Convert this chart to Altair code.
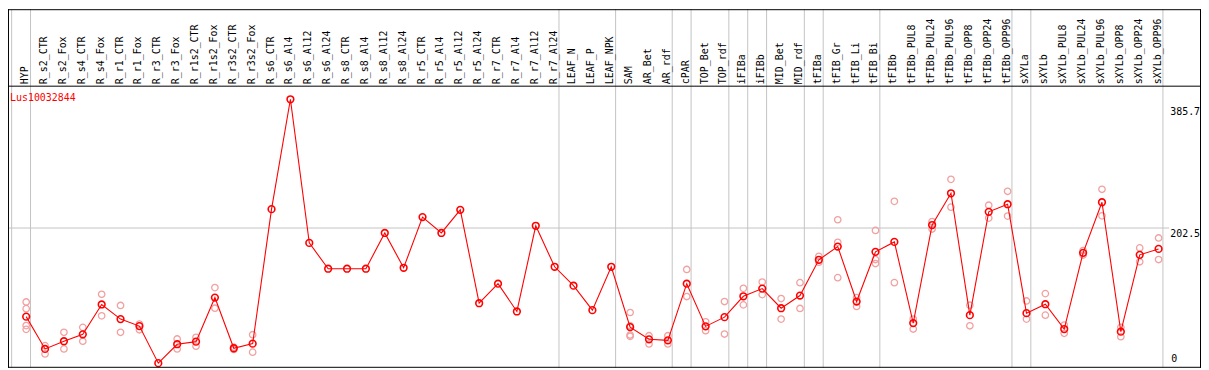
import altair as alt
import pandas as pd

gene = "Lus10032844"

categories = [
    "HYP", "R_s2_CTR", "R_s2_Fox", "R_s4_CTR", "R_s4_Fox", "R_r1_CTR", "R_r1_Fox",
    "R_r3_CTR", "R_r3_Fox", "R_r1s2_CTR", "R_r1s2_Fox", "R_r3s2_CTR", "R_r3s2_Fox",
    "R_s6_CTR", "R_s6_Al4", "R_s6_Al12", "R_s6_Al24", "R_s8_CTR", "R_s8_Al4",
    "R_s8_Al12", "R_s8_Al24", "R_r5_CTR", "R_r5_Al4", "R_r5_Al12", "R_r5_Al24",
    "R_r7_CTR", "R_r7_Al4", "R_r7_Al12", "R_r7_Al24", "LEAF_N", "LEAF_P", "LEAF_NPK",
    "SAM", "AR_Bet", "AR_rdf", "cPAR", "TOP_Bet", "TOP_rdf", "iFIBa", "iFIBb",
    "MID_Bet", "MID_rdf", "tFIBa", "tFIB_Gr", "tFIB_Li", "tFIB_Bi", "tFIBb",
    "tFIBb_PUL8", "tFIBb_PUL24", "tFIBb_PUL96", "tFIBb_OPP8", "tFIBb_OPP24",
    "tFIBb_OPP96", "sXYLa", "sXYLb", "sXYLb_PUL8", "sXYLb_PUL24", "sXYLb_PUL96",
    "sXYLb_OPP8", "sXYLb_OPP24", "sXYLb_OPP96",
]

means = [
    69.7, 21.3, 32.8, 43.2, 87.9, 66.0, 55.5, 0.0, 28.3, 32.2, 98.3, 22.3, 29.2,
    230.8, 395.5, 180.2, 141.5, 141.5, 141.5, 195.1, 142.9, 218.9, 195.1, 229.8,
    89.8, 119.1, 77.4, 205.9, 144.4, 116.1, 79.4, 144.4,
    54.0, 35.7, 34.2, 119.1, 55.1, 68.9, 100.2, 111.7, 82.3, 101.3, 154.9, 174.7,
    92.3, 166.8, 181.7, 60.0, 207.0, 254.6, 71.9, 226.8, 238.2, 74.9, 88.3, 51.1,
    165.3, 241.2, 47.1, 162.3, 171.2,
]

replicates = [
    [91.7, 81.6, 56.3, 50.6], [26.2, 13.8], [46.2, 21.3], [53.6, 32.8], [103.2, 70.9],
    [86.4, 46.2], [58.5, 50.0], [], [36.2, 21.3], [38.7, 25.3], [113.2, 82.3],
    [24.0, 20.5], [42.6, 16.4],
    [], [], [], [], [], [], [], [], [], [], [], [], [], [], [], [], [], [], [],
    [75.9, 56.0, 42.1, 40.2], [41.1, 28.7], [41.1, 28.7], [140.4, 99.8], [62.0, 48.6],
    [92.3, 43.6], [112.1, 87.3], [121.5, 102.7], [96.8, 66.0], [120.6, 81.9],
    [160.2, 151.3], [214.9, 181.1, 128.1], [98.3, 84.9], [198.9, 155.3, 149.3],
    [242.5, 120.6], [66.0, 51.1], [212.3, 201.0], [275.5, 233.8], [86.8, 56.0],
    [236.7, 217.4], [257.6, 220.4], [93.2, 66.0], [104.2, 71.9], [57.0, 44.7],
    [168.7, 162.0], [260.6, 220.8], [53.6, 39.6], [172.7, 151.9], [187.6, 155.3],
]

group_sizes = [1, 28, 3, 3, 1, 2, 1, 1, 2, 1, 3, 7, 1, 7]

top_ticks = ["385.7", "202.5"]
top_tick_values = [385.7, 202.5]
bottom_ticks = ["0"]
bottom_tick_values = [0]
grid_values = [202.5]

W, H = 1201, 361
FONT = "DejaVu Sans Mono"
RED = "#ff0000"
PINK = "#f2a0a0"
GRAY = "#c4c4c4"

xscale = alt.Scale(domain=[-0.9632, 62.247], nice=False, zero=False)
yscale = alt.Scale(domain=[-7.0, 530.5], nice=False, zero=False)

df_mean = pd.DataFrame({"i": list(range(len(categories))), "cat": categories, "val": means})
rep_rows = []
for i, (c, reps) in enumerate(zip(categories, replicates)):
    for v in reps:
        rep_rows.append({"i": i, "cat": c, "val": v})
df_rep = pd.DataFrame(rep_rows)

ends = [-1]
s = -1
for g in group_sizes:
    s += g
    ends.append(s)
df_sep = pd.DataFrame({"s": [e + 0.23 for e in ends]})

X = alt.X("i:Q", scale=xscale, axis=None)
Y = alt.Y("val:Q", scale=yscale, axis=None)

seps = alt.Chart(df_sep).mark_rule(color=GRAY, strokeWidth=1).encode(
    x=alt.X("s:Q", scale=xscale, axis=None), y=alt.value(0), y2=alt.value(H)
)

grid = alt.Chart(pd.DataFrame({"val": grid_values})).mark_rule(color=GRAY, strokeWidth=1).encode(
    y=Y, x=alt.value(1), x2=alt.value(1169)
)

rep_pts = alt.Chart(df_rep).mark_point(
    shape="circle", filled=False, color=PINK, size=42, strokeWidth=1.3, opacity=1
).encode(x=X, y=Y)

line = alt.Chart(df_mean).mark_line(color=RED, strokeWidth=1.1).encode(
    x=X, y=Y, order="i:Q"
)

mean_pts = alt.Chart(df_mean).mark_point(
    shape="circle", filled=False, color=RED, size=45, strokeWidth=1.6, opacity=1
).encode(x=X, y=Y)

labels = alt.Chart(df_mean).mark_text(
    angle=270, align="left", baseline="middle", font=FONT, fontSize=10, color="black", dy=-1
).encode(x=X, y=alt.value(75.5), text="cat:N")

title_t = alt.Chart(pd.DataFrame({"t": [gene]})).mark_text(
    align="left", baseline="middle", font=FONT, fontSize=10, color=RED
).encode(x=alt.value(2), y=alt.value(89.7), text="t:N")

ytop = alt.Chart(pd.DataFrame({"val": top_tick_values, "lab": top_ticks})).mark_text(
    align="left", baseline="top", font=FONT, fontSize=10, color="black", dy=1
).encode(x=alt.value(1170), y=Y, text="lab:N")

ybot = alt.Chart(pd.DataFrame({"val": bottom_tick_values, "lab": bottom_ticks})).mark_text(
    align="left", baseline="bottom", font=FONT, fontSize=10, color="black", dy=1
).encode(x=alt.value(1171), y=Y, text="lab:N")

frame_df = pd.DataFrame({"k": [0]})
hframes = [
    alt.Chart(frame_df).mark_rule(color="black", strokeWidth=1).encode(
        x=alt.value(0), x2=alt.value(W), y=alt.value(yy)
    )
    for yy in (0.5, 77.5, 360.5)
]
vframes = [
    alt.Chart(frame_df).mark_rule(color="black", strokeWidth=1).encode(
        y=alt.value(0), y2=alt.value(H), x=alt.value(xx)
    )
    for xx in (0.5, 1200.5)
]

chart = alt.layer(
    seps, grid, rep_pts, line, mean_pts, labels, title_t, ytop, ybot, *hframes, *vframes
).properties(
    width=W, height=H, padding=0, autosize=alt.AutoSizeParams(type="none"), background="white"
).configure_view(strokeWidth=0)

chart.save("out.html", embed_options={"renderer": "svg", "actions": False})
